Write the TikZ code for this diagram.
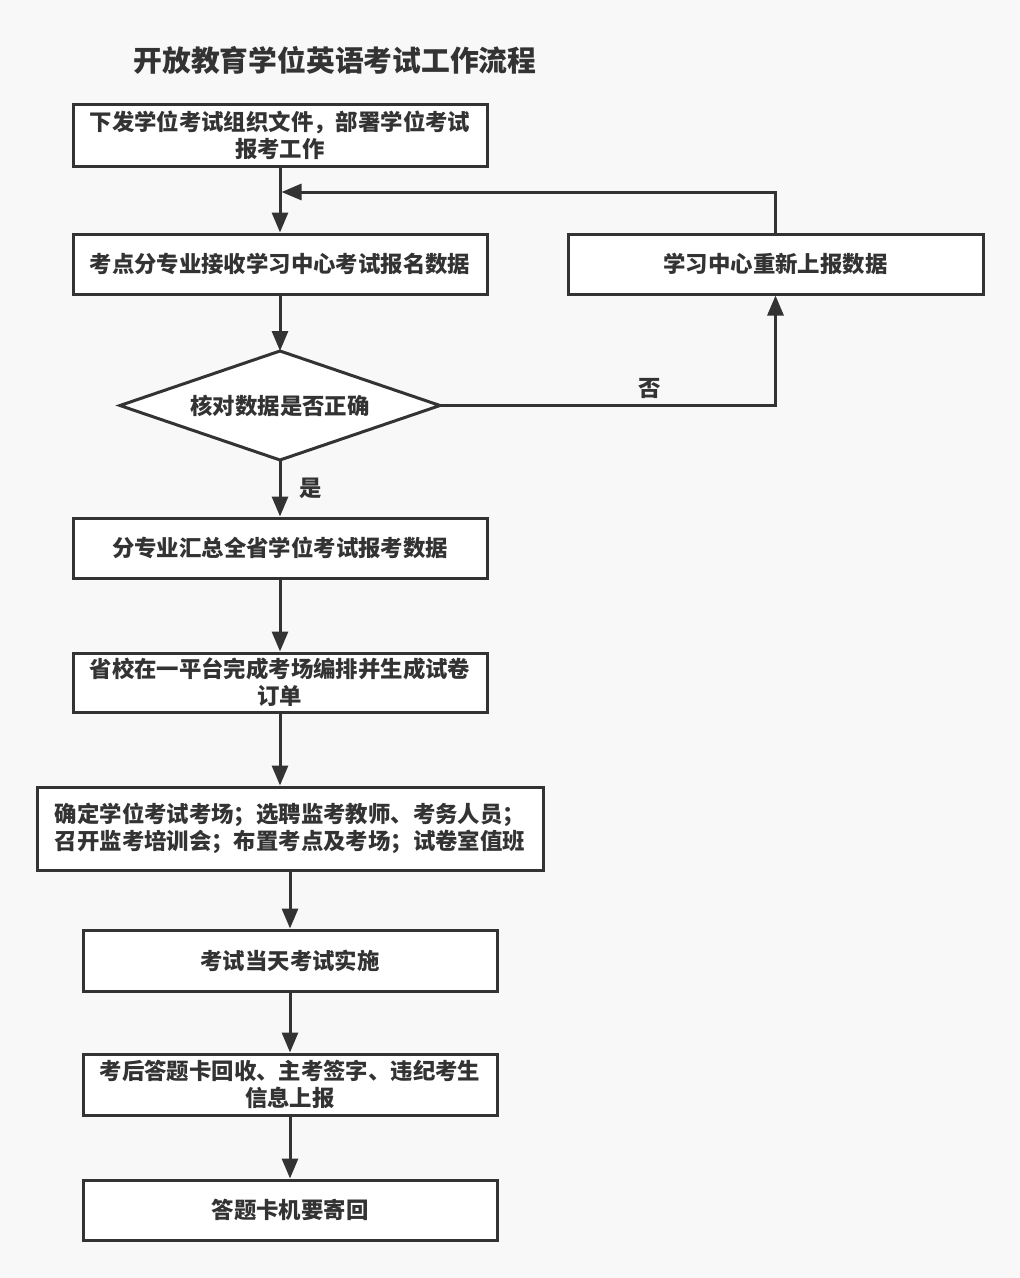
\documentclass[tikz,border=0pt]{standalone}
\usepackage{fontspec}
\newfontfamily\cjk{Noto Sans CJK SC}
\usetikzlibrary{arrows.meta,positioning,calc}
\definecolor{ink}{HTML}{333333}
\definecolor{bg}{HTML}{F8F8F8}
\begin{document}
\begin{tikzpicture}[x=1pt,y=-1pt,
  box/.style={draw=ink,line width=3pt,fill=white,minimum width=414pt,minimum height=60pt,
    inner sep=0pt,align=center,text=ink,font=\cjk\bfseries\fontsize{22.4}{27}\selectfont},
  lbl/.style={text=ink,font=\cjk\bfseries\fontsize{22.4}{27}\selectfont},
  arr/.style={draw=ink,line width=3pt,-{Triangle[length=20pt,width=16pt]}},
  ln/.style={draw=ink,line width=3pt}]
\fill[bg] (0,0) rectangle (1020,1278);
\useasboundingbox (0,0) rectangle (1020,1278);
\node[text=ink,font=\cjk\bfseries\fontsize{28.8}{34}\selectfont] (title) at (335,60) {开放教育学位英语考试工作流程};
\node[box,minimum height=62pt] (b1) at (280,135) {下发学位考试组织文件，部署学位考试\\报考工作};
\node[box] (b2) at (280,264) {考点分专业接收学习中心考试报名数据};
\node[box,minimum width=415pt] (r) at (775.5,264) {学习中心重新上报数据};
\coordinate (dt) at (280,351);
\coordinate (dr) at (440,405.5);
\coordinate (db) at (280,460);
\coordinate (dl) at (120,405.5);
\draw[ln,fill=white,line join=miter] (dt) -- (dr) -- (db) -- (dl) -- cycle;
\node[lbl] (d) at (280,405.5) {核对数据是否正确};
\node[box] (b3) at (280,548) {分专业汇总全省学位考试报考数据};
\node[box,minimum height=59pt] (b4) at (280,682.5) {省校在一平台完成考场编排并生成试卷\\订单};
\node[box,minimum width=506pt,minimum height=83pt] (b5) at (290,828.5) {确定学位考试考场；选聘监考教师、考务人员；\\召开监考培训会；布置考点及考场；试卷室值班};
\node[box,minimum height=61pt] (b6) at (290,960.5) {考试当天考试实施};
\node[box,minimum height=61pt] (b7) at (290,1084.5) {考后答题卡回收、主考签字、违纪考生\\信息上报};
\node[box] (b8) at (290,1210) {答题卡机要寄回};
\node[lbl] (no) at (650,388) {否};
\node[lbl] (yes) at (311,488) {是};
\coordinate (fb) at (281.5,192);
\draw[arr] (b1.south) -- (b2.north);
\draw[arr] (r.north) |- (fb);
\draw[arr] (b2.south) -- (dt);
\draw[arr] (dr) -| (r.south);
\draw[arr] (db) -- (b3.north);
\draw[arr] (b3.south) -- (b4.north);
\draw[arr] (b4.south) -- (b4.south |- b5.north);
\draw[arr] (b6.north |- b5.south) -- (b6.north);
\draw[arr] (b6.south) -- (b7.north);
\draw[arr] (b7.south) -- (b8.north);
\end{tikzpicture}
\end{document}
